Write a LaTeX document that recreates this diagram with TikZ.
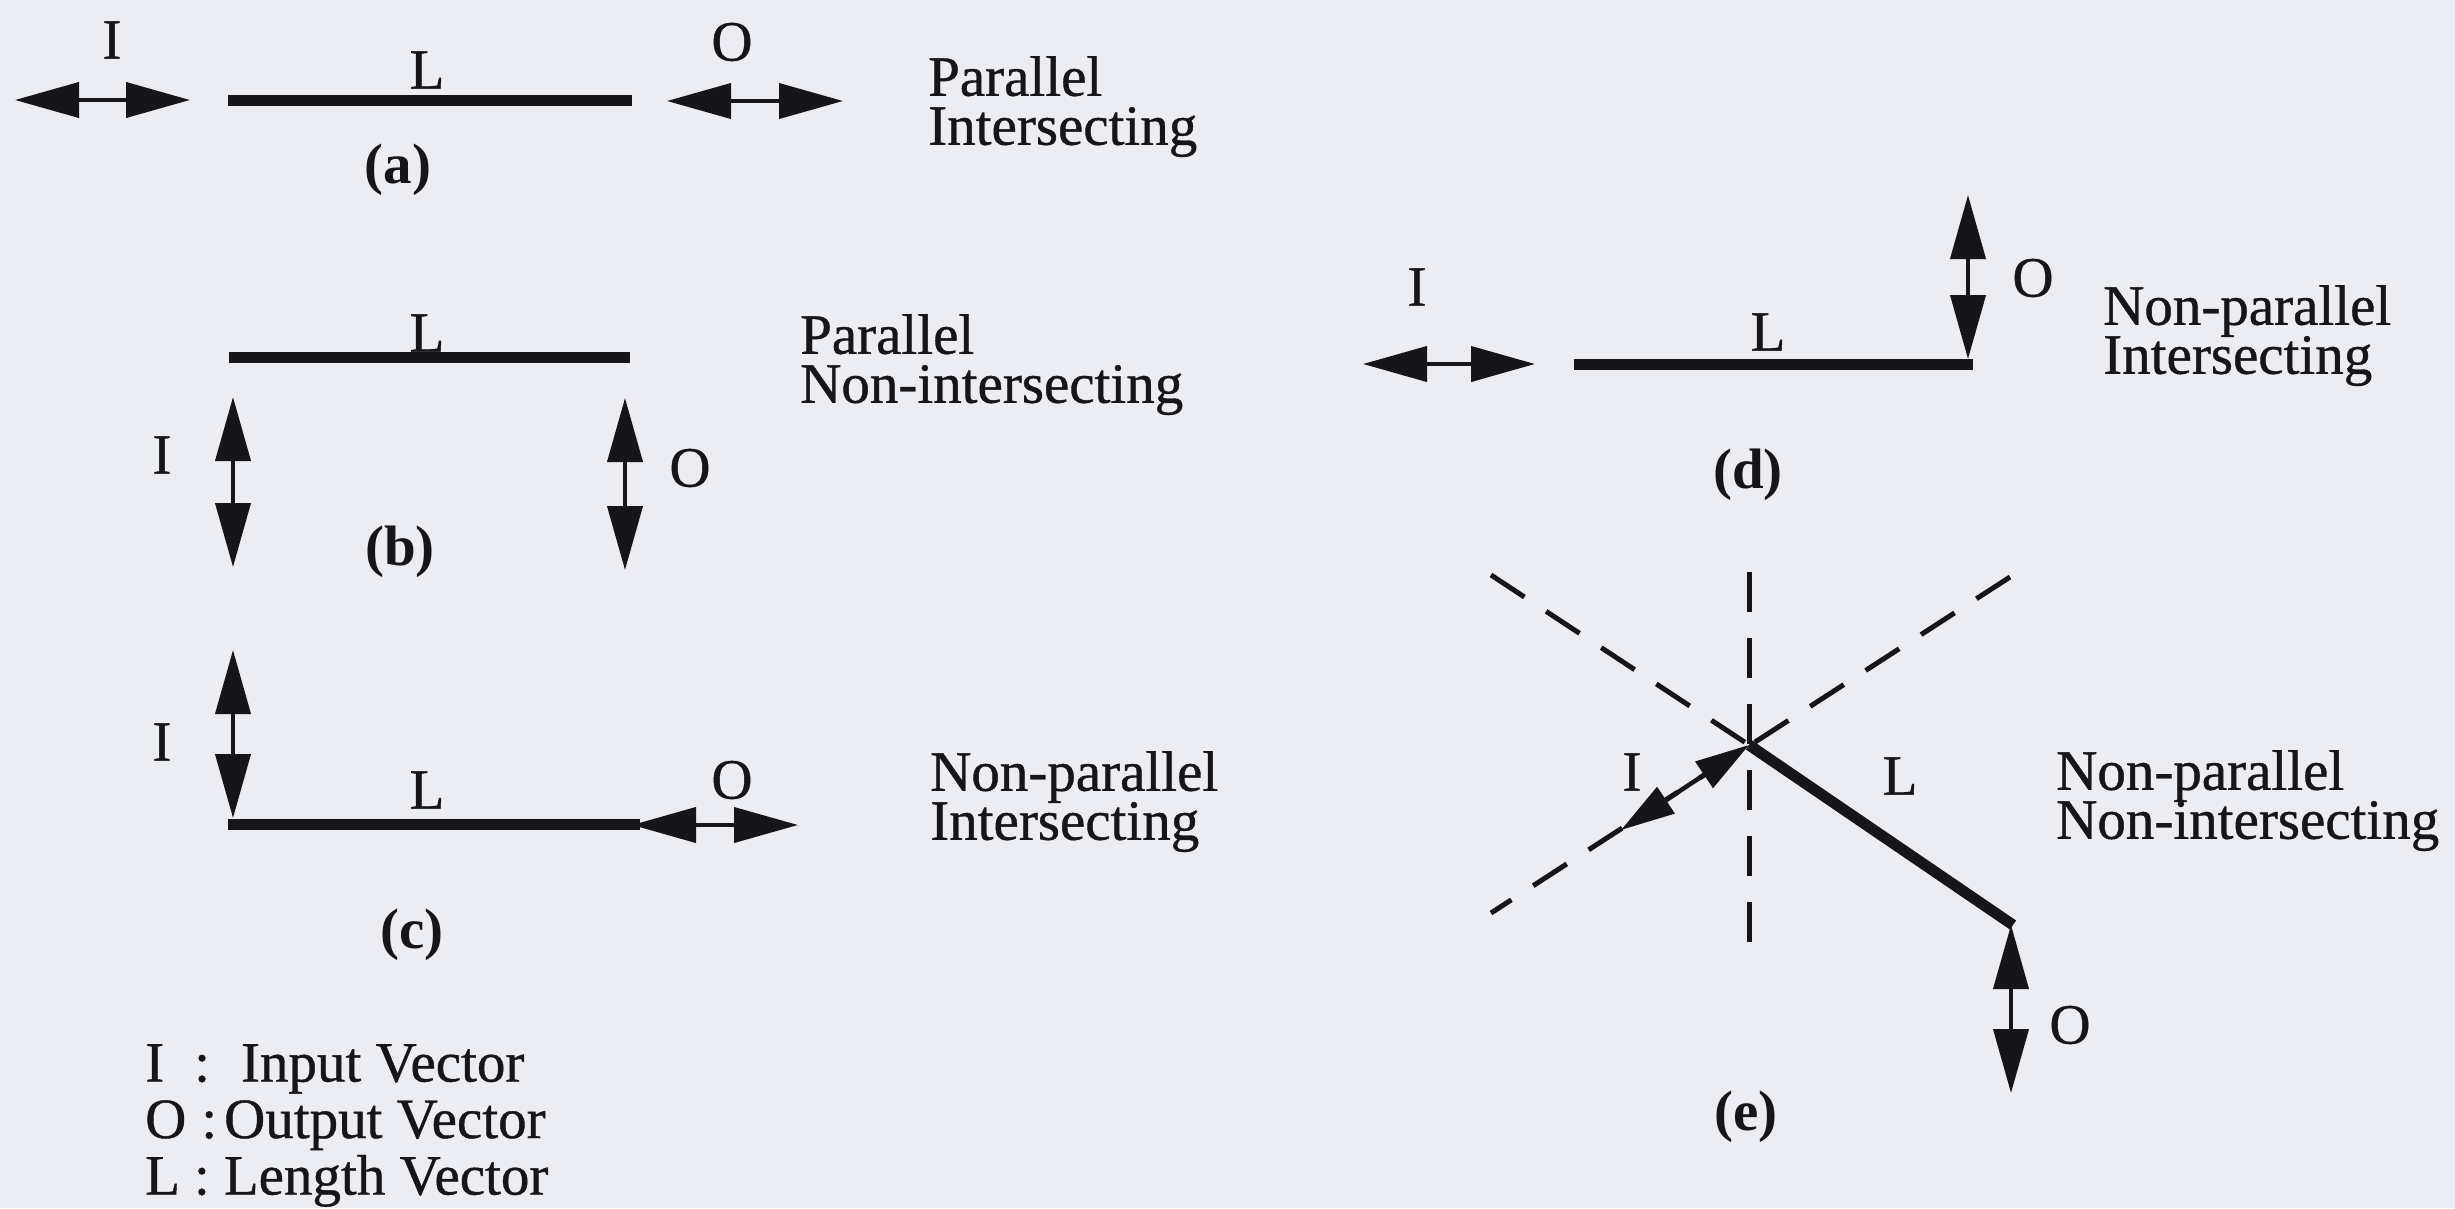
\documentclass[tikz,border=0pt]{standalone}
\usepackage{fontspec}
\setmainfont{Liberation Serif}
\newfontfamily\scanfont{Liberation Serif}[FakeBold=0.7]
\usetikzlibrary{arrows.meta}
\definecolor{paper}{RGB}{236,237,243}
\definecolor{ink}{RGB}{22,22,26}
\lineskiplimit=-200pt
\begin{document}
\begin{tikzpicture}[x=1pt,y=-1pt,
  lvec/.style={line width=11pt, draw=ink},
  dvec/.style={line width=4pt, draw=ink, {Triangle[length=64pt,width=35pt]}-{Triangle[length=64pt,width=35pt]}},
  dvecs/.style={line width=4.5pt, draw=ink, {Triangle[length=54pt,width=31pt]}-{Triangle[length=54pt,width=31pt]}},
  dline/.style={line width=5pt, draw=ink, dash pattern=on 40pt off 26pt},
  lbl/.style={inner sep=0pt, font=\fontsize{57}{56}\selectfont\scanfont, text=ink},
  figcap/.style={lbl, font=\fontsize{57}{56}\selectfont\bfseries},
  pair/.style={lbl, anchor=north west, align=left, font=\fontsize{57}{49}\selectfont\scanfont},
  keybox/.style={lbl, anchor=north west, align=left, font=\fontsize{57}{56.5}\selectfont\scanfont}]
\fill[paper] (0,0) rectangle (2455,1208);
\useasboundingbox (0,0) rectangle (2455,1208);

% ---------- (a)
\coordinate (aI1) at (15,100);   \coordinate (aI2) at (190,100);
\coordinate (aL1) at (228,100);  \coordinate (aL2) at (632,100);
\coordinate (aO1) at (667,101);  \coordinate (aO2) at (843,101);
\draw[dvec] (aI1) -- (aI2);
\draw[lvec] (aL1) -- (aL2);
\draw[dvec] (aO1) -- (aO2);
\node[lbl] (aIl) at (112,40) {I};
\node[lbl] (aLl) at (427,70) {L};
\node[lbl] (aOl) at (732,42) {O};
\node[figcap] (acap) at (398,170) {(a)};
\node[pair] (at) at (928,56) {Parallel\\Intersecting};

% ---------- (b)
\coordinate (bL1) at (229,357);  \coordinate (bL2) at (630,357);
\coordinate (bI1) at (233,397);  \coordinate (bI2) at (233,567);
\coordinate (bO1) at (625,398);  \coordinate (bO2) at (625,570);
\draw[lvec] (bL1) -- (bL2);
\draw[dvec] (bI1) -- (bI2);
\draw[dvec] (bO1) -- (bO2);
\node[lbl] (bLl) at (427,333) {L};
\node[lbl] (bIl) at (162,455) {I};
\node[lbl] (bOl) at (690,468) {O};
\node[figcap] (bcap) at (400,552) {(b)};
\node[pair] (bt) at (800,314) {Parallel\\Non-intersecting};

% ---------- (c)
\coordinate (cI1) at (233,650);  \coordinate (cI2) at (233,818);
\coordinate (cL1) at (228,824);  \coordinate (cL2) at (640,824);
\coordinate (cO1) at (632,825);  \coordinate (cO2) at (798,825);
\draw[lvec] (cL1) -- (cL2);
\draw[dvec] (cI1) -- (cI2);
\draw[dvec] (cO1) -- (cO2);
\node[lbl] (cIl) at (162,742) {I};
\node[lbl] (cLl) at (427,790) {L};
\node[lbl] (cOl) at (732,780) {O};
\node[figcap] (ccap) at (412,935) {(c)};
\node[pair] (ct) at (930,751) {Non-parallel\\Intersecting};

% ---------- legend
\node[keybox] (key) at (145,1044) {I\hspace{30pt}:\hspace{31pt}Input Vector\\
  O\hspace{15pt}:\hspace{7pt}Output Vector\\
  L\hspace{14pt}:\hspace{14pt}Length Vector};

% ---------- (d)
\coordinate (dI1) at (1363,364); \coordinate (dI2) at (1535,364);
\coordinate (dL1) at (1574,364); \coordinate (dL2) at (1973,364);
\coordinate (dO1) at (1968,195); \coordinate (dO2) at (1968,359);
\draw[dvec] (dI1) -- (dI2);
\draw[lvec] (dL1) -- (dL2);
\draw[dvec] (dO1) -- (dO2);
\node[lbl] (dIl) at (1417,287) {I};
\node[lbl] (dLl) at (1768,332) {L};
\node[lbl] (dOl) at (2033,278) {O};
\node[figcap] (dcap) at (1748,475) {(d)};
\node[pair] (dt) at (2103,285) {Non-parallel\\Intersecting};

% ---------- (e)
\coordinate (eC)  at (1749,745);
\coordinate (eV1) at (1749,572); \coordinate (eV2) at (1749,957);
\coordinate (eUL) at (1491,575);
\coordinate (eUR) at (2010,577); \coordinate (eLL) at (1491,913);
\coordinate (eLe) at (2013,925);
\coordinate (eIe) at (1621,830);
\coordinate (eO1) at (2011,925); \coordinate (eO2) at (2011,1093);
\draw[dline] (eV1) -- (eV2);
\draw[dline] (eUL) -- (eC);
\draw[dline] (eUR) -- (eLL);
\draw[lvec] (eC) -- (eLe);
\draw[dvecs] (eC) -- (eIe);
\draw[dvec] (eO1) -- (eO2);
\node[lbl] (eIl) at (1632,772) {I};
\node[lbl] (eLl) at (1900,776) {L};
\node[lbl] (eOl) at (2070,1025) {O};
\node[figcap] (ecap) at (1746,1117) {(e)};
\node[pair] (et) at (2056,750) {Non-parallel\\Non-intersecting};
\end{tikzpicture}
\end{document}
